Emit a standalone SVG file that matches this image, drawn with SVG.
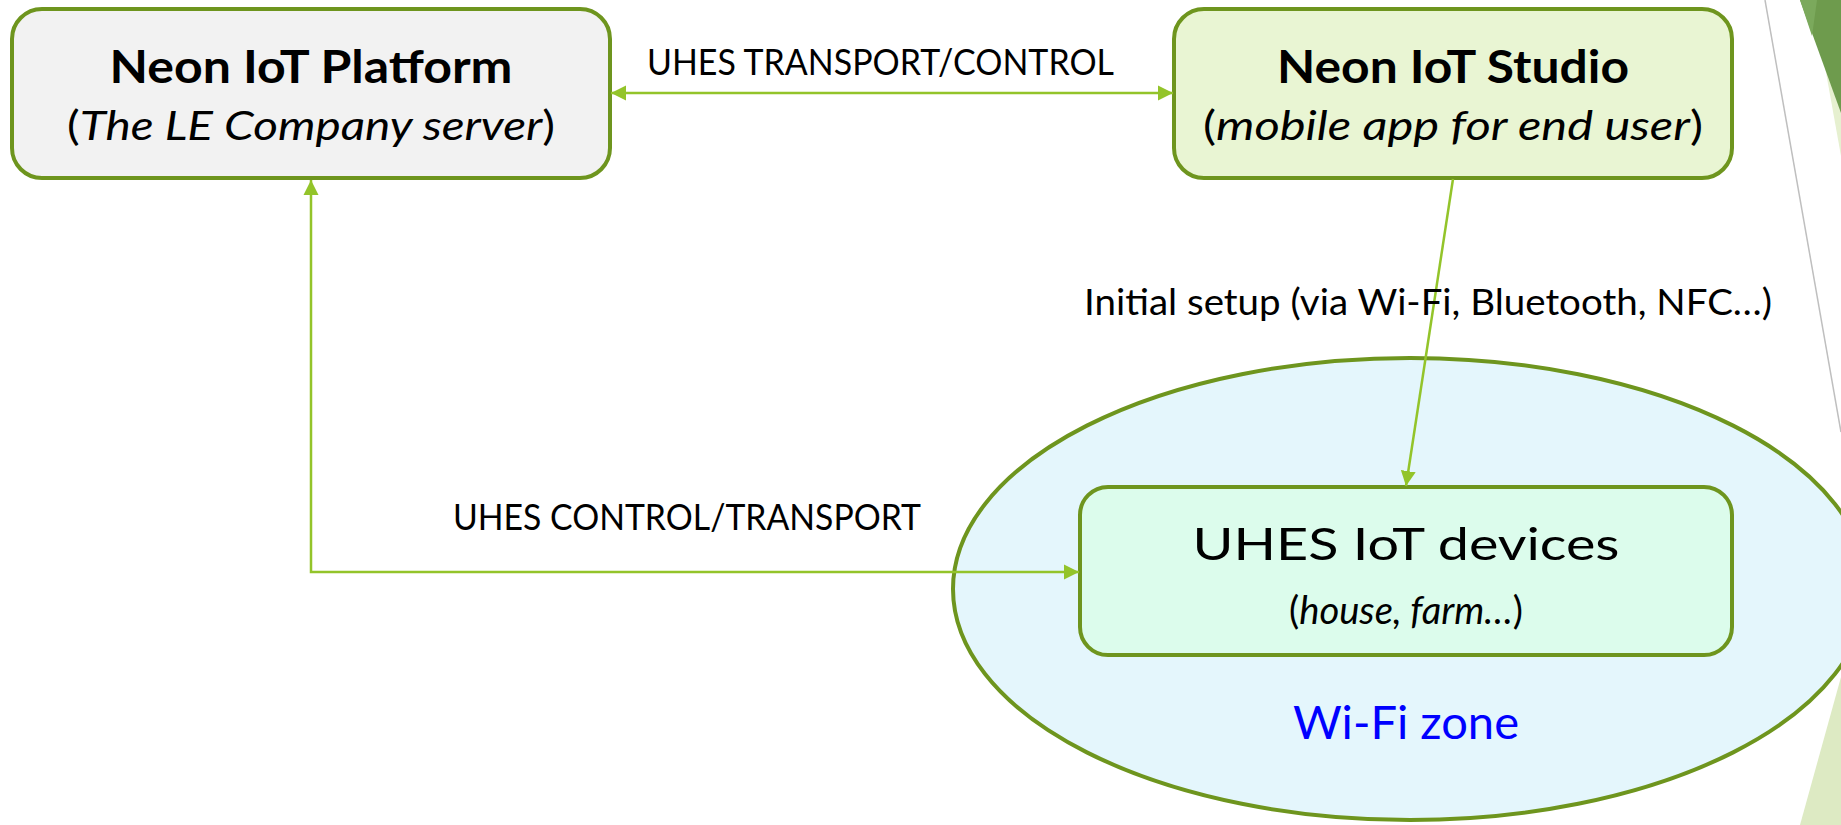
<svg xmlns="http://www.w3.org/2000/svg" width="1841" height="825" viewBox="0 0 1841 825">
  <style>
    .box { stroke: #6E951E; stroke-width: 4; }
    .conn { fill: none; stroke: #93C42A; stroke-width: 2.5; }
    .t { font-family: Lato, "Open Sans", "Liberation Sans", sans-serif; fill: #000; }
    .title { font-weight: bold; font-size: 46px; }
    .sub { font-size: 40px; }
    .lbl { font-size: 37px; }
    .it { font-style: italic; }
  </style>
  <defs>
    <marker id="arr" markerUnits="userSpaceOnUse" markerWidth="16" markerHeight="16" viewBox="0 0 16 16" refX="15" refY="8" orient="auto-start-reverse">
      <path d="M0,0.5 L15,8 L0,15.5 z" fill="#93C42A"/>
    </marker>
  </defs>
  <rect width="1841" height="825" fill="#FFFFFF"/>

  <g id="decoration">
    <line x1="1765" y1="0" x2="1841" y2="432" stroke="#BFBFBF" stroke-width="1.5"/>
    <polygon points="1813,0 1841,0 1841,156" fill="#E6F0D0"/>
    <polygon points="1800,0 1841,0 1841,113" fill="#6E9B4D"/>
    <polygon points="1800,0 1817,0 1812,36" fill="#7BA95C"/>
    <polygon points="1800,825 1841,825 1841,677" fill="#DDEAC3"/>
  </g>

  <g id="wifi-zone">
    <ellipse cx="1410" cy="589" rx="457" ry="231" fill="#E4F6FC" stroke="#6E951E" stroke-width="4"/>
    <text class="t" x="1406" y="739" text-anchor="middle" font-size="47" style="fill:#0000FF" textLength="226" lengthAdjust="spacingAndGlyphs">Wi-Fi zone</text>
  </g>

  <g id="platform">
    <rect class="box" x="12" y="9" width="598" height="169" rx="30" fill="#F2F2F2"/>
    <text class="t title" x="311" y="83" text-anchor="middle" textLength="403" lengthAdjust="spacingAndGlyphs">Neon IoT Platform</text>
    <text class="t sub" x="311" y="140" text-anchor="middle" textLength="488" lengthAdjust="spacingAndGlyphs">(<tspan class="it">The LE Company server</tspan>)</text>
  </g>

  <g id="studio">
    <rect class="box" x="1174" y="9" width="558" height="169" rx="30" fill="#E9F5D3"/>
    <text class="t title" x="1453" y="83" text-anchor="middle" textLength="352" lengthAdjust="spacingAndGlyphs">Neon IoT Studio</text>
    <text class="t sub" x="1453" y="140" text-anchor="middle" textLength="500" lengthAdjust="spacingAndGlyphs">(<tspan class="it">mobile app for end user</tspan>)</text>
  </g>

  <g id="devices">
    <rect class="box" x="1080" y="487" width="652" height="168" rx="28" fill="#DCFCEC"/>
    <text class="t" x="1406" y="560" text-anchor="middle" font-size="44" textLength="427" lengthAdjust="spacingAndGlyphs">UHES IoT devices</text>
    <text class="t" x="1406" y="624" text-anchor="middle" font-size="38" textLength="234" lengthAdjust="spacingAndGlyphs">(<tspan class="it">house, farm…</tspan>)</text>
  </g>

  <g id="connectors">
    <path class="conn" d="M611,93 L1173,93" marker-start="url(#arr)" marker-end="url(#arr)"/>
    <path class="conn" d="M311,180 L311,572 L1079,572" marker-start="url(#arr)" marker-end="url(#arr)"/>
    <path class="conn" d="M1453,179 L1406,486" marker-end="url(#arr)"/>
  </g>

  <g id="labels">
    <text class="t lbl" x="647" y="75" textLength="467" lengthAdjust="spacingAndGlyphs">UHES TRANSPORT/CONTROL</text>
    <text class="t lbl" x="1084" y="315" textLength="688" lengthAdjust="spacingAndGlyphs">Initial setup (via Wi-Fi, Bluetooth, NFC…)</text>
    <text class="t lbl" x="453" y="530" textLength="468" lengthAdjust="spacingAndGlyphs">UHES CONTROL/TRANSPORT</text>
  </g>
</svg>
